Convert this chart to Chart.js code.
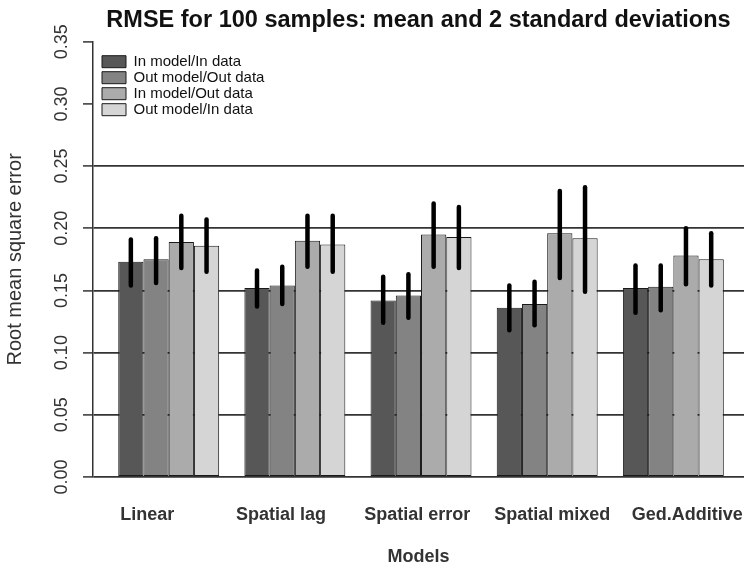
<!DOCTYPE html>
<html>
<head>
<meta charset="utf-8">
<script src="https://cdn.jsdelivr.net/npm/chart.js@4.4.1/dist/chart.umd.min.js"></script>
<style>
  html, body { margin: 0; padding: 0; background: #fff; }
  #wrap { width: 744px; height: 568px; position: relative; }
</style>
</head>
<body>
<div id="wrap"><canvas id="rmseChart"></canvas></div>
<script>
// --- données ---
const models = ['Linear', 'Spatial lag', 'Spatial error', 'Spatial mixed', 'Ged.Additive'];
const seriesNames = ['In model/In data', 'Out model/Out data', 'In model/Out data', 'Out model/In data'];

const meanInIn   = [0.173, 0.152, 0.142, 0.136, 0.152];
const meanOutOut = [0.175, 0.154, 0.146, 0.139, 0.153];
const meanInOut  = [0.189, 0.190, 0.195, 0.196, 0.178];
const meanOutIn  = [0.186, 0.187, 0.193, 0.192, 0.175];

// bornes moyenne +/- 2 écarts-types
const lowInIn    = [0.154, 0.137, 0.124, 0.118, 0.132];
const highInIn   = [0.191, 0.166, 0.161, 0.154, 0.170];
const lowOutOut  = [0.156, 0.139, 0.128, 0.122, 0.134];
const highOutOut = [0.192, 0.169, 0.163, 0.157, 0.170];
const lowInOut   = [0.168, 0.169, 0.169, 0.160, 0.155];
const highInOut  = [0.210, 0.210, 0.220, 0.230, 0.200];
const lowOutIn   = [0.165, 0.165, 0.168, 0.149, 0.154];
const highOutIn  = [0.207, 0.210, 0.217, 0.233, 0.196];

const yTicksMax = 0.35;
const gridTop = 0.25; // lignes horizontales tracées jusqu'à 0.25

const barColors = ['#575757', '#838383', '#ababab', '#d5d5d5'];
const FONT = "'Liberation Sans', Arial, Helvetica, sans-serif";

// une "unité" = largeur d'une barre, groupes de 4 barres + 1 espace (comme barplot de R)
const groupCenter = i => i * 5 + 3;
const labelAt = [2.15, 7.45, 12.85, 18.2, 23.55];

function toPoints(values) {
    return values.map((v, i) => ({ x: groupCenter(i), y: v }));
}

const means = [meanInIn, meanOutOut, meanInOut, meanOutIn];
const lows = [lowInIn, lowOutOut, lowInOut, lowOutIn];
const highs = [highInIn, highOutOut, highInOut, highOutIn];

const datasets = seriesNames.map((name, k) => ({
    label: name,
    data: toPoints(means[k]),
    errLow: lows[k],
    errHigh: highs[k],
    backgroundColor: barColors[k],
    borderColor: '#1a1a1a',
    borderWidth: 1,
    borderSkipped: false,
    categoryPercentage: 0.8,
    barPercentage: 1.0
}));

// Barres d'erreur (traits noirs épais)
const errorBars = {
    id: 'errorBars',
    afterDraw(chart) {
        const { ctx, scales: { y } } = chart;
        ctx.save();
        ctx.strokeStyle = '#000';
        ctx.lineWidth = 4.5;
        ctx.lineCap = 'round';
        chart.data.datasets.forEach((ds, i) => {
            const meta = chart.getDatasetMeta(i);
            meta.data.forEach((bar, j) => {
                ctx.beginPath();
                ctx.moveTo(bar.x, y.getPixelForValue(ds.errLow[j]));
                ctx.lineTo(bar.x, y.getPixelForValue(ds.errHigh[j]));
                ctx.stroke();
            });
        });
        ctx.restore();
    }
};

// Légende à l'intérieur, en haut à gauche
const legendInside = {
    id: 'legendInside',
    afterLayout(chart) {
        const a = chart.chartArea;
        const lg = chart.legend;
        if (!lg) return;
        lg.left = a.left + 8;
        lg.top = a.top + 11.5;
        lg.bottom = a.bottom;
    }
};

Chart.defaults.font.family = FONT;

new Chart(document.getElementById('rmseChart'), {
    type: 'bar',
    data: { datasets },
    options: {
        responsive: true,
        maintainAspectRatio: false,
        animation: false,
        layout: { padding: 0 },
        plugins: {
            title: {
                display: true,
                text: 'RMSE for 100 samples: mean and 2 standard deviations',
                fullSize: false,
                color: '#111',
                font: { size: 23.5, weight: 'bold', lineHeight: 1.2 },
                padding: { top: 6, bottom: 7.5 }
            },
            legend: {
                position: 'chartArea',
                align: 'start',
                labels: {
                    usePointStyle: true,
                    pointStyle: 'rect',
                    pointStyleWidth: 24,
                    boxHeight: 12,
                    padding: 1,
                    color: '#111',
                    font: { size: 15, lineHeight: 1 }
                }
            },
            tooltip: { enabled: false }
        },
        scales: {
            x: {
                type: 'linear',
                min: 0,
                max: 25.8,
                offset: false,
                afterBuildTicks: s => { s.ticks = labelAt.map(v => ({ value: v })); },
                afterFit: s => { s.height = 91; s.paddingLeft = 0; s.paddingRight = 0; },
                grid: { display: false, drawTicks: false, offset: false },
                border: { display: false },
                ticks: {
                    autoSkip: false,
                    minRotation: 0,
                    maxRotation: 0,
                    padding: 27,
                    color: '#333',
                    font: { size: 18, weight: 'bold' },
                    callback: (v, i) => models[i]
                },
                title: {
                    display: true,
                    text: 'Models',
                    color: '#333',
                    font: { size: 18, weight: 'bold' },
                    padding: { top: 0, bottom: 0 }
                }
            },
            y: {
                min: 0,
                max: yTicksMax,
                z: 1,
                afterFit: s => { s.width = 93; },
                ticks: {
                    stepSize: 0.05,
                    callback: v => v.toFixed(2),
                    minRotation: 90,
                    maxRotation: 90,
                    crossAlign: 'center',
                    padding: 3,
                    color: '#333',
                    font: { size: 18 }
                },
                grid: {
                    color: c => (c.tick && c.tick.value <= gridTop + 1e-9) ? '#333' : 'rgba(0,0,0,0)',
                    lineWidth: 1.8,
                    tickLength: 10,
                    tickColor: '#333',
                    tickWidth: 1.5
                },
                border: { display: true, color: '#333', width: 1.5 },
                title: {
                    display: true,
                    text: 'Root mean square error',
                    color: '#333',
                    font: { size: 20 },
                    padding: { top: 3, bottom: 0 }
                }
            }
        }
    },
    plugins: [errorBars, legendInside]
});
</script>
</body>
</html>
